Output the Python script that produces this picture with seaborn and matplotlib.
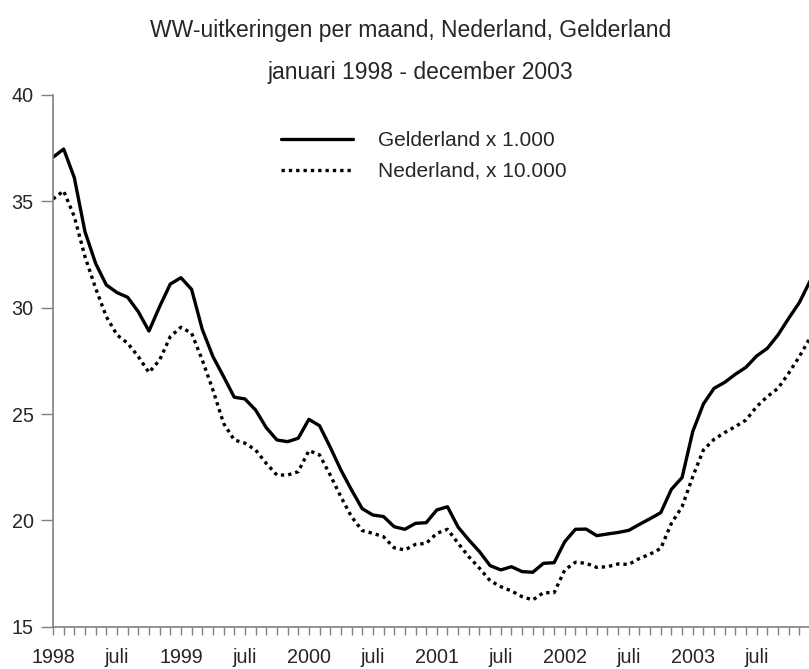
import numpy as np
import pandas as pd
import matplotlib
matplotlib.use("Agg")
import matplotlib.pyplot as plt
import seaborn as sns

# ---- data (Jan 1998 - Dec 2003, monthly) ----
gelderland = [37.07, 37.46, 36.11, 33.57, 32.08, 31.07, 30.71, 30.49, 29.81, 28.90, 30.05, 31.11,
              31.41, 30.86, 28.98, 27.70, 26.76, 25.79, 25.71, 25.19, 24.36, 23.78, 23.70, 23.86,
              24.75, 24.45, 23.44, 22.37, 21.43, 20.55, 20.25, 20.18, 19.70, 19.58, 19.86, 19.89,
              20.49, 20.64, 19.68, 19.08, 18.53, 17.87, 17.67, 17.82, 17.59, 17.56, 17.98, 18.01,
              19.00, 19.58, 19.59, 19.28, 19.36, 19.43, 19.53, 19.81, 20.08, 20.36, 21.46, 22.01,
              24.17, 25.47, 26.21, 26.49, 26.87, 27.20, 27.73, 28.09, 28.72, 29.50, 30.24, 31.25]
nederland = [35.11, 35.49, 34.28, 32.40, 30.91, 29.58, 28.72, 28.33, 27.70, 26.95, 27.54, 28.64,
             29.08, 28.80, 27.54, 26.13, 24.56, 23.78, 23.63, 23.31, 22.68, 22.13, 22.13, 22.29,
             23.28, 23.08, 22.13, 21.11, 20.17, 19.52, 19.39, 19.23, 18.71, 18.61, 18.87, 18.92,
             19.39, 19.58, 18.92, 18.29, 17.75, 17.16, 16.88, 16.68, 16.41, 16.26, 16.60, 16.60,
             17.67, 18.03, 17.98, 17.79, 17.82, 17.95, 17.93, 18.21, 18.41, 18.68, 19.86, 20.64,
             22.05, 23.31, 23.81, 24.13, 24.41, 24.72, 25.35, 25.82, 26.21, 26.92, 27.70, 28.58]
months = list(range(72))
tick_labels = ["1998", "juli", "1999", "juli", "2000", "juli",
               "2001", "juli", "2002", "juli", "2003", "juli"]
series_names = ["Gelderland x 1.000", "Nederland, x 10.000"]
title1 = "WW-uitkeringen per maand, Nederland, Gelderland"
title2 = "januari 1998 - december 2003"

df = pd.DataFrame({"maand": months, "Gelderland": gelderland, "Nederland": nederland})

sns.set_style("white")
plt.rcParams["font.family"] = ["Liberation Sans", "DejaVu Sans"]

W, H = 809, 669
fig = plt.figure(figsize=(W / 100, H / 100), dpi=100)
left, right, top, bottom = 53, 810, 95, 626.7
ax = fig.add_axes([left / W, (H - bottom) / H, (right - left) / W, (bottom - top) / H])

sns.lineplot(data=df, x="maand", y="Gelderland", ax=ax, color="black", lw=2.4,
             label=series_names[0])
sns.lineplot(data=df, x="maand", y="Nederland", ax=ax, color="black", lw=2.4,
             linestyle=(0, (1, 1.2)), label=series_names[1])

ax.set_xlim(0, 71)
ax.set_ylim(15, 40)
ax.set_yticks([15, 20, 25, 30, 35, 40])
ax.set_xticks(months)
ax.set_xticklabels([tick_labels[i // 6] if i % 6 == 0 else "" for i in months])
ax.set_xlabel("")
ax.set_ylabel("")

for s in ["top", "right"]:
    ax.spines[s].set_visible(False)
for s in ["left", "bottom"]:
    ax.spines[s].set_color("#808080")
    ax.spines[s].set_linewidth(1.2)
ax.tick_params(axis="y", direction="out", length=9, width=1, color="#808080",
               labelsize=14.2, pad=5, left=True)
ax.tick_params(axis="x", direction="out", length=6, width=1, color="#808080",
               labelsize=14.2, pad=9.5, bottom=True)

leg = ax.legend(loc="upper left", bbox_to_anchor=(281 / W, 1 - 131.5 / H),
                bbox_transform=fig.transFigure, frameon=False, fontsize=15,
                handlelength=3.45, handletextpad=1.2, labelspacing=0.55, borderpad=0,
                borderaxespad=0)

fig.text(411 / W, 1 - 30 / H, title1, ha="center", va="center", fontsize=16.5)
fig.text(420 / W, 1 - 73 / H, title2, ha="center", va="center", fontsize=16.5)

fig.savefig("out.png", dpi=100)
